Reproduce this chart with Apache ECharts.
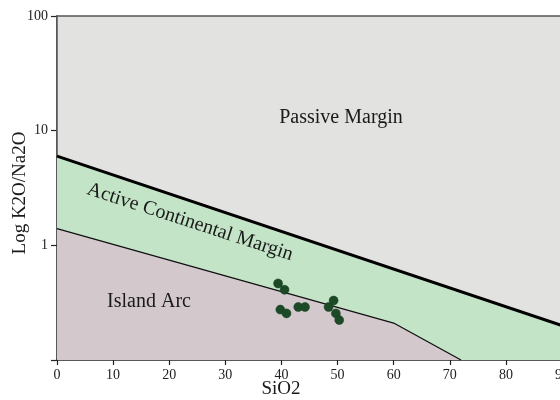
<!DOCTYPE html>
<html>
<head>
<meta charset="utf-8">
<script src="https://cdn.jsdelivr.net/npm/echarts@6/dist/echarts.min.js"></script>
<style>html,body{margin:0;padding:0;background:#fff;}#c{width:560px;height:400px;}</style>
</head>
<body>
<div id="c"></div>
<script>
// Field polygons (SiO2, K2O/Na2O)
const regionPassive = [[0,100],[90,100],[90,0.2],[0,6]];
const regionActive = [[0,6],[90,0.2],[90,0.1],[72,0.1],[60,0.21],[0,1.4]];
const regionIsland = [[0,1.4],[60,0.21],[72,0.1],[0,0.1]];
// Boundary lines
const upperBoundary = [[0,6],[90,0.2]];
const lowerBoundary = [[0,1.4],[60,0.21],[72,0.1]];
// Sample points
const sampleSiO2 = [39.4,40.55,39.8,40.9,43.0,44.2,48.4,49.3,49.7,50.3];
const sampleRatio = [0.465,0.41,0.275,0.255,0.29,0.29,0.29,0.33,0.255,0.223];
// Axis ticks
const xTicks = [0,10,20,30,40,50,60,70,80,90];
const yTicks = [1,10,100];
// Labels
const fieldLabels = ['Passive Margin','Active Continental Margin','Island Arc'];

const FONT = 'Liberation Serif';
const chart = echarts.init(document.getElementById('c'), null, {renderer:'canvas'});

function regionSeries(poly, fill, stroke) {
  return {
    type:'custom', silent:true, z:1,
    data:[[poly[0][0], poly[0][1]]],
    renderItem:(params, api) => ({
      type:'polygon',
      shape:{points: poly.map(p => api.coord(p))},
      style: stroke ? {fill:fill, stroke:stroke, lineWidth:1.5} : {fill:fill}
    })
  };
}

const option = {
  animation:false,
  backgroundColor:'#ffffff',
  grid:{left:57, top:16, right:-2, bottom:40, containLabel:false, outerBoundsMode:'none'},
  xAxis:{
    type:'value', min:0, max:90, interval:10,
    axisLine:{show:true, lineStyle:{color:'#222', width:1.5}},
    axisTick:{show:true, length:5, lineStyle:{color:'#222', width:1.2}},
    axisLabel:{show:true, fontFamily:FONT, fontSize:14, color:'#222', margin:8,
      formatter:v => xTicks.indexOf(v) >= 0 ? String(v) : ''},
    splitLine:{show:false}
  },
  yAxis:{
    type:'log', logBase:10, min:0.1, max:100,
    axisLine:{show:true, lineStyle:{color:'#222', width:1.5}},
    axisTick:{show:true, length:6, lineStyle:{color:'#222', width:1.2}},
    minorTick:{show:false},
    axisLabel:{show:true, fontFamily:FONT, fontSize:14, color:'#222', margin:9,
      formatter:v => yTicks.indexOf(Math.round(v*1000)/1000) >= 0 ? String(Math.round(v)) : ''},
    splitLine:{show:false}
  },
  graphic:[
    {type:'text', x:341, y:118, style:{text:fieldLabels[0], font:'20px "Liberation Serif"', fill:'#1a1a1a', textAlign:'center', textVerticalAlign:'middle'}, z:10},
    {type:'text', x:190, y:222, rotation:-18*Math.PI/180, style:{text:fieldLabels[1], font:'20px "Liberation Serif"', fill:'#1a1a1a', textAlign:'center', textVerticalAlign:'middle'}, z:10},
    {type:'text', x:149, y:302, style:{text:fieldLabels[2], font:'20px "Liberation Serif"', fill:'#1a1a1a', textAlign:'center', textVerticalAlign:'middle'}, z:10},
    {type:'text', x:281, y:389, style:{text:'SiO2', font:'19px "Liberation Serif"', fill:'#1a1a1a', textAlign:'center', textVerticalAlign:'middle'}, z:10},
    {type:'text', x:20, y:193, rotation:Math.PI/2, style:{text:'Log K2O/Na2O', font:'19px "Liberation Serif"', fill:'#1a1a1a', textAlign:'center', textVerticalAlign:'middle'}, z:10}
  ],
  series:[
    regionSeries(regionPassive, '#e2e2e0', '#555'),
    regionSeries(regionActive, '#c3e4c7'),
    regionSeries(regionIsland, '#d3c9cc'),
    {type:'line', data:upperBoundary, symbol:'none', silent:true, z:3,
      lineStyle:{color:'#000', width:3}},
    {type:'line', data:lowerBoundary, symbol:'none', silent:true, z:3,
      lineStyle:{color:'#111', width:1.3}},
    {type:'scatter', data:sampleSiO2.map((x,i)=>[x, sampleRatio[i]]), symbol:'circle', symbolSize:9, z:5,
      itemStyle:{color:'#1c4a26', opacity:1, borderColor:'#163d1f', borderWidth:0.5}}
  ]
};
chart.setOption(option);
</script>
</body>
</html>
